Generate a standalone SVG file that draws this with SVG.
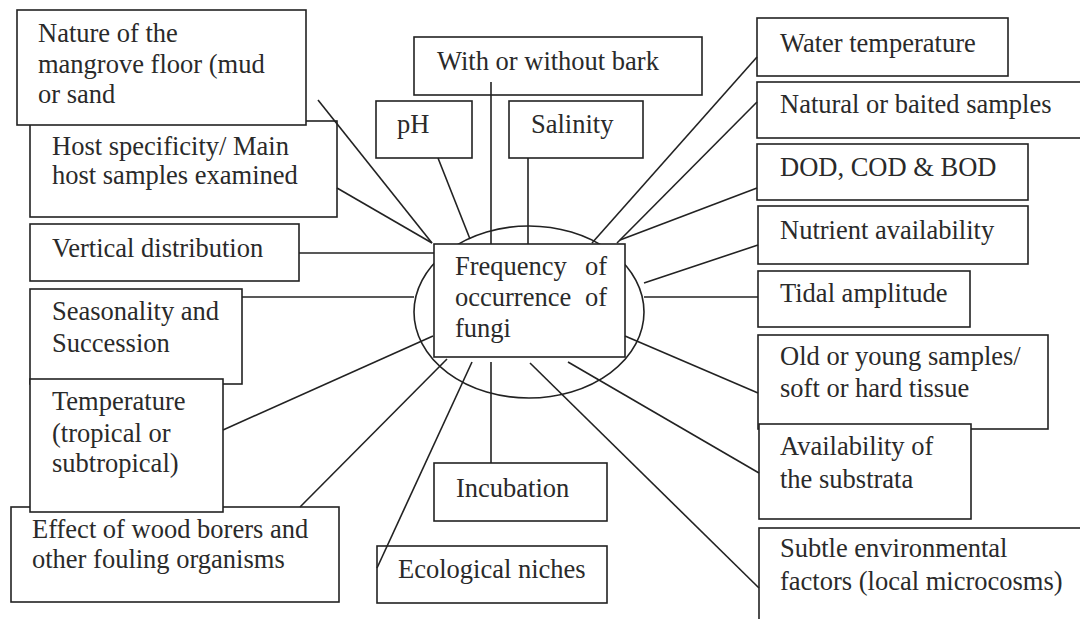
<svg xmlns="http://www.w3.org/2000/svg" width="1080" height="619" viewBox="0 0 1080 619">
<style>
.b{fill:#fff;stroke:#222;stroke-width:1.6}
.t{font-family:"Liberation Serif","Times New Roman",serif;font-size:26.5px;fill:#2a2a2a}
.c{stroke:#222;stroke-width:1.6;fill:none}
</style>
<rect width="1080" height="619" fill="#fff"/>
<g id="center">
<ellipse class="b" cx="529" cy="312" rx="115" ry="86"/>
<rect class="b" x="434" y="244" width="191" height="113"/>
<text class="t"><tspan x="455" y="275">Frequency</tspan><tspan x="607" y="275" text-anchor="end">of</tspan><tspan x="455" y="306">occurrence</tspan><tspan x="607" y="306" text-anchor="end">of</tspan><tspan x="455" y="337">fungi</tspan></text>
</g>
<g id="host"><rect class="b" x="30" y="121" width="307" height="96"/><text class="t"><tspan x="52" y="155">Host specificity/ Main</tspan><tspan x="52" y="184">host samples examined</tspan></text></g>
<g id="nature"><rect class="b" x="17" y="10" width="289" height="115"/><text class="t"><tspan x="38" y="42">Nature of the</tspan><tspan x="38" y="73">mangrove floor (mud</tspan><tspan x="38" y="103">or sand</tspan></text></g>
<g id="vertical"><rect class="b" x="30" y="224" width="269" height="57"/><text class="t" x="52" y="257">Vertical distribution</text></g>
<g id="seasonality"><rect class="b" x="30" y="289" width="212" height="95"/><text class="t"><tspan x="52" y="320">Seasonality and</tspan><tspan x="52" y="352">Succession</tspan></text></g>
<g id="effect"><rect class="b" x="11" y="507" width="328" height="95"/><text class="t"><tspan x="32" y="538">Effect of wood borers and</tspan><tspan x="32" y="568">other fouling organisms</tspan></text></g>
<g id="temperature"><rect class="b" x="30" y="379" width="193" height="133"/><text class="t"><tspan x="52" y="410">Temperature</tspan><tspan x="52" y="442">(tropical or</tspan><tspan x="52" y="472">subtropical)</tspan></text></g>
<g id="bark"><rect class="b" x="414" y="37" width="288" height="58"/><text class="t" x="437" y="70">With or without bark</text></g>
<g id="ph"><rect class="b" x="376" y="101" width="96" height="57"/><text class="t" x="397" y="133">pH</text></g>
<g id="salinity"><rect class="b" x="509" y="101" width="134" height="57"/><text class="t" x="531" y="133">Salinity</text></g>
<g id="incubation"><rect class="b" x="434" y="463" width="173" height="58"/><text class="t" x="456" y="497">Incubation</text></g>
<g id="niches"><rect class="b" x="377" y="546" width="230" height="57"/><text class="t" x="398" y="578">Ecological niches</text></g>
<g id="water"><rect class="b" x="757" y="18" width="251" height="58"/><text class="t" x="780" y="52">Water temperature</text></g>
<g id="natural"><rect class="b" x="757" y="82" width="340" height="56"/><text class="t" x="780" y="113">Natural or baited samples</text></g>
<g id="dod"><rect class="b" x="757" y="144" width="271" height="56"/><text class="t" x="780" y="176">DOD, COD &amp; BOD</text></g>
<g id="nutrient"><rect class="b" x="758" y="206" width="270" height="58"/><text class="t" x="780" y="239">Nutrient availability</text></g>
<g id="tidal"><rect class="b" x="758" y="271" width="212" height="56"/><text class="t" x="780" y="302">Tidal amplitude</text></g>
<g id="oldyoung"><rect class="b" x="758" y="335" width="290" height="94"/><text class="t"><tspan x="780" y="365">Old or young samples/</tspan><tspan x="780" y="397">soft or hard tissue</tspan></text></g>
<g id="substrata"><rect class="b" x="759" y="424" width="212" height="95"/><text class="t"><tspan x="780" y="455">Availability of</tspan><tspan x="780" y="488">the substrata</tspan></text></g>
<g id="subtle"><rect class="b" x="759" y="528" width="340" height="110"/><text class="t"><tspan x="780" y="557">Subtle environmental</tspan><tspan x="780" y="590">factors (local microcosms)</tspan></text></g>
<g id="connectors" class="c">
<line x1="318" y1="100" x2="432" y2="243"/>
<line x1="337" y1="188" x2="432" y2="243"/>
<line x1="438" y1="158" x2="470" y2="239"/>
<line x1="491" y1="82" x2="491" y2="244"/>
<line x1="528" y1="158" x2="528" y2="244"/>
<line x1="299" y1="253" x2="434" y2="253"/>
<line x1="242" y1="297" x2="414" y2="297"/>
<line x1="223" y1="430" x2="433" y2="336"/>
<line x1="300" y1="507" x2="447" y2="359"/>
<line x1="377" y1="568" x2="472" y2="362"/>
<line x1="491" y1="362" x2="491" y2="463"/>
<line x1="530" y1="363" x2="759" y2="588"/>
<line x1="568" y1="362" x2="759" y2="473"/>
<line x1="625" y1="336" x2="758" y2="393"/>
<line x1="644" y1="297" x2="758" y2="297"/>
<line x1="644" y1="283" x2="758" y2="245"/>
<line x1="620" y1="240" x2="757" y2="188"/>
<line x1="617" y1="243" x2="757" y2="102"/>
<line x1="592" y1="243" x2="757" y2="57"/>
</g>
</svg>
